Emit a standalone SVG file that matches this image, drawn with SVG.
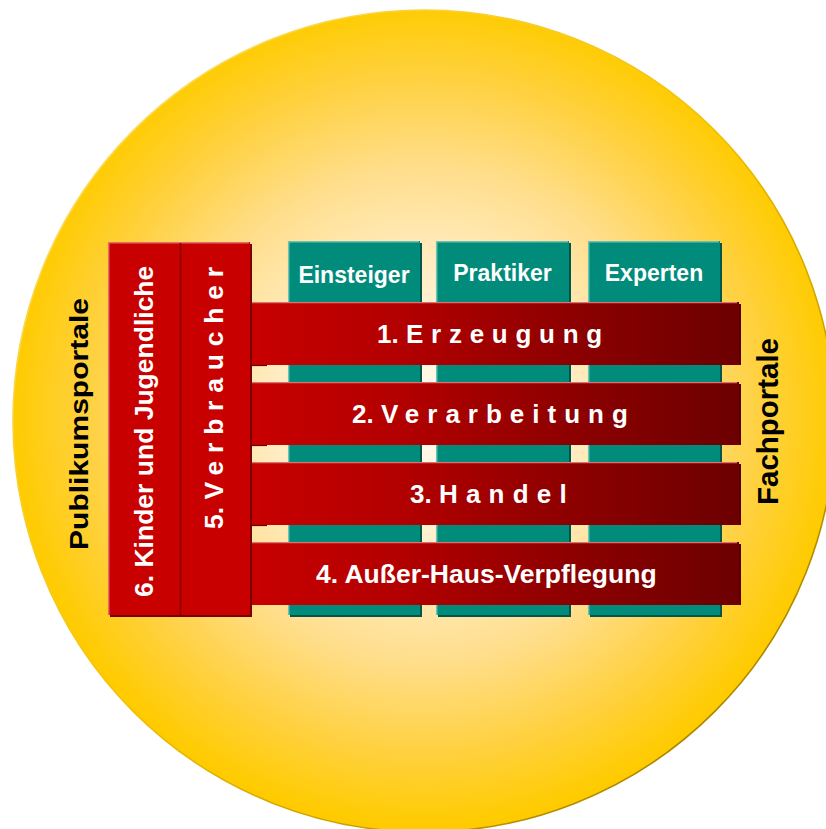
<svg xmlns="http://www.w3.org/2000/svg" width="826" height="829" viewBox="0 0 826 829">
  <defs>
    <radialGradient id="sun" cx="424" cy="415" r="411" gradientUnits="userSpaceOnUse">
      <stop offset="0" stop-color="#fffbf2"/>
      <stop offset="0.35" stop-color="#ffedc6"/>
      <stop offset="0.6" stop-color="#ffde8c"/>
      <stop offset="0.82" stop-color="#ffd140"/>
      <stop offset="1" stop-color="#ffcb00"/>
    </radialGradient>
    <linearGradient id="rim" x1="0" y1="0" x2="1" y2="1">
      <stop offset="0" stop-color="#ffe680"/>
      <stop offset="0.5" stop-color="#f0c000"/>
      <stop offset="1" stop-color="#8c7000"/>
    </linearGradient>
    <linearGradient id="bar" x1="0" y1="0" x2="1" y2="0">
      <stop offset="0" stop-color="#c80000"/>
      <stop offset="0.3" stop-color="#b30000"/>
      <stop offset="0.65" stop-color="#8e0000"/>
      <stop offset="1" stop-color="#6c0000"/>
    </linearGradient>
    <style>
      .teal { fill: #018b7b; }
      .teal-shadow { fill: #00564b; }
      .teal-hi { fill: none; stroke: #6cc3b3; stroke-width: 1.5; }
      .bar { fill: url(#bar); }
      .bar-shadow { fill: #5a0000; }
      .bar-hi { stroke: #e07070; stroke-width: 1.2; }
      .red { fill: #c80000; }
      .red-shadow { fill: #7a0000; }
      .red-hi { fill: none; stroke: #e86a6a; stroke-width: 1.5; }
      .lbl { font-family: "Liberation Sans", Arial, sans-serif; font-weight: bold; fill: #ffffff; }
      .side { font-family: "Liberation Sans", Arial, sans-serif; font-weight: bold; fill: #000000; }
    </style>
  </defs>

  <!-- background disc -->
  <circle cx="424" cy="421" r="411" fill="url(#sun)" stroke="url(#rim)" stroke-width="1.6"/>

  <!-- audience columns -->
  <g id="einsteiger">
    <rect class="teal-shadow" x="290" y="243" width="132" height="374"/>
    <rect class="teal" x="288" y="241" width="132" height="374"/>
    <path class="teal-hi" d="M288.7 615 V241.7 H419"/>
    <text class="lbl" x="354" y="283" font-size="23" text-anchor="middle">Einsteiger</text>
  </g>
  <g id="praktiker">
    <rect class="teal-shadow" x="438" y="243" width="133" height="374"/>
    <rect class="teal" x="436" y="241" width="133" height="374"/>
    <path class="teal-hi" d="M436.7 615 V241.7 H568"/>
    <text class="lbl" x="502.5" y="281" font-size="23" text-anchor="middle">Praktiker</text>
  </g>
  <g id="experten">
    <rect class="teal-shadow" x="590" y="243" width="132" height="374"/>
    <rect class="teal" x="588" y="241" width="132" height="374"/>
    <path class="teal-hi" d="M588.7 615 V241.7 H719"/>
    <text class="lbl" x="654" y="281" font-size="23" text-anchor="middle">Experten</text>
  </g>

  <!-- value chain bars -->
  <g id="erzeugung">
    <rect class="bar-shadow" x="252" y="304" width="489" height="61"/>
    <rect class="bar" x="250" y="302" width="489" height="63"/>
    <line class="bar-hi" x1="250" y1="302.6" x2="737" y2="302.6"/>
    <line x1="250" y1="365.5" x2="267" y2="365.5" stroke="#6a0000" stroke-width="1.2"/>
    <text class="lbl" x="377" y="343" font-size="26">1. <tspan letter-spacing="7.75">Erzeugung</tspan></text>
  </g>
  <g id="verarbeitung">
    <rect class="bar-shadow" x="252" y="384" width="489" height="61"/>
    <rect class="bar" x="250" y="382" width="489" height="63"/>
    <line class="bar-hi" x1="250" y1="382.6" x2="737" y2="382.6"/>
    <line x1="250" y1="445.5" x2="267" y2="445.5" stroke="#6a0000" stroke-width="1.2"/>
    <text class="lbl" x="352" y="423" font-size="26">2. <tspan letter-spacing="8">Verarbeitung</tspan></text>
  </g>
  <g id="handel">
    <rect class="bar-shadow" x="252" y="464" width="489" height="61"/>
    <rect class="bar" x="250" y="462" width="489" height="63"/>
    <line class="bar-hi" x1="250" y1="462.6" x2="737" y2="462.6"/>
    <line x1="250" y1="525.5" x2="267" y2="525.5" stroke="#6a0000" stroke-width="1.2"/>
    <text class="lbl" x="410" y="503" font-size="26">3. <tspan letter-spacing="8.2">Handel</tspan></text>
  </g>
  <g id="ausser-haus">
    <rect class="bar-shadow" x="252" y="544" width="489" height="61"/>
    <rect class="bar" x="250" y="542" width="489" height="63"/>
    <line class="bar-hi" x1="250" y1="542.6" x2="737" y2="542.6"/>
    <text class="lbl" x="316" y="583" font-size="26.5">4. Außer-Haus-Verpflegung</text>
  </g>

  <!-- public audience block -->
  <g id="publikum-block">
    <rect class="red-shadow" x="110" y="244" width="142" height="373"/>
    <rect class="red" x="108" y="242" width="142" height="373"/>
    <path class="red-hi" d="M108.7 615 V242.7 H249"/>
    <line x1="180.5" y1="243" x2="180.5" y2="615" stroke="#8a0000" stroke-width="1.6"/>
  </g>
  <g id="kinder">
    <text class="lbl" transform="translate(153,597) rotate(-90)" font-size="26.5">6. Kinder und Jugendliche</text>
  </g>
  <g id="verbraucher">
    <text class="lbl" transform="translate(223,529) rotate(-90)" font-size="26.5">5. <tspan letter-spacing="7.8">Verbraucher</tspan></text>
  </g>

  <!-- portal labels -->
  <g id="publikumsportale">
    <text class="side" transform="translate(88,550) rotate(-90)" font-size="25" textLength="252" lengthAdjust="spacingAndGlyphs">Publikumsportale</text>
  </g>
  <g id="fachportale">
    <text class="side" transform="translate(778,505) rotate(-90)" font-size="30" textLength="167" lengthAdjust="spacingAndGlyphs">Fachportale</text>
  </g>
</svg>
